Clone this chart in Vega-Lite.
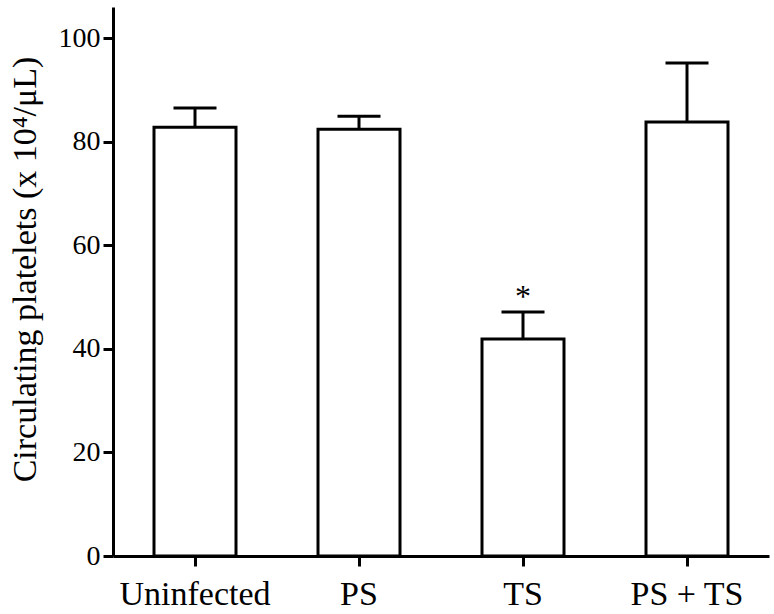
{
  "$schema": "https://vega.github.io/schema/vega-lite/v6.json",
  "width": 656,
  "height": 549,
  "autosize": {"type": "none"},
  "padding": {"left": 113, "top": 7, "right": 5, "bottom": 58},
  "background": "white",
  "config": {
    "view": {"stroke": null},
    "font": "Liberation Serif",
    "axis": {"labelFont": "Liberation Serif", "titleFont": "Liberation Serif", "labelFontWeight": "normal", "titleFontWeight": "normal"}
  },
  "data": {
    "values": [
      {"group": "Uninfected", "mean": 82.8, "upper": 86.5, "star": ""},
      {"group": "PS", "mean": 82.4, "upper": 84.9, "star": ""},
      {"group": "TS", "mean": 41.9, "upper": 47.1, "star": "*"},
      {"group": "PS + TS", "mean": 83.8, "upper": 95.2, "star": ""}
    ]
  },
  "encoding": {
    "x": {
      "field": "group",
      "type": "nominal",
      "sort": null,
      "scale": {"paddingInner": 0.5, "paddingOuter": 0.25},
      "axis": {
        "title": null,
        "labelAngle": 0,
        "labelFontSize": 34,
        "labelColor": "black",
        "labelPadding": 11,
        "domainColor": "black",
        "domainWidth": 3,
        "tickColor": "black",
        "tickWidth": 3,
        "tickSize": 10
      }
    }
  },
  "layer": [
    {
      "mark": {"type": "bar", "fill": "white", "stroke": "black", "strokeWidth": 3},
      "encoding": {
        "y": {
          "field": "mean",
          "type": "quantitative",
          "scale": {"domain": [0, 106], "nice": false},
          "axis": {
            "title": "Circulating platelets (x 10⁴/μL)",
            "titleFontSize": 34,
            "titleColor": "black",
            "titlePadding": 16,
            "titleY": 262,
            "values": [0, 20, 40, 60, 80, 100],
            "grid": false,
            "labelFontSize": 28,
            "labelColor": "black",
            "labelPadding": 3,
            "domainColor": "black",
            "domainWidth": 3,
            "tickColor": "black",
            "tickWidth": 3,
            "tickSize": 10
          }
        }
      }
    },
    {
      "mark": {"type": "rule", "stroke": "black", "strokeWidth": 3},
      "encoding": {
        "y": {"field": "mean", "type": "quantitative"},
        "y2": {"field": "upper"}
      }
    },
    {
      "mark": {"type": "tick", "orient": "horizontal", "color": "black", "size": 43, "thickness": 3, "opacity": 1},
      "encoding": {
        "y": {"field": "upper", "type": "quantitative"}
      }
    },
    {
      "mark": {"type": "text", "fontSize": 32, "font": "Liberation Serif", "baseline": "alphabetic", "dy": -5, "color": "black"},
      "encoding": {
        "y": {"field": "upper", "type": "quantitative"},
        "text": {"field": "star"}
      }
    }
  ]
}
